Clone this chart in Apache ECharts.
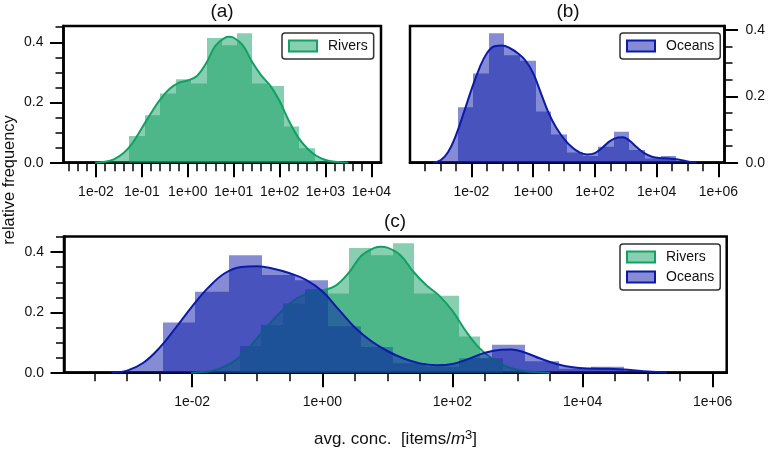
<!DOCTYPE html>
<html><head><meta charset="utf-8">
<style>html,body{margin:0;padding:0;background:#fff}#c{width:768px;height:450px}</style>
<script src="https://cdn.jsdelivr.net/npm/echarts@6/dist/echarts.min.js"></script></head>
<body><div id="c"></div>
<script>
const riverEdges=[-1.27,-0.94,-0.60,-0.26,0.08,0.41,0.745,1.08,1.41,1.755,2.10,2.43,2.77];
const riverHeights=[0.089,0.158,0.23,0.277,0.263,0.414,0.39,0.43,0.263,0.255,0.12,0.048];
const oceanEdges=[-2.45,-1.95,-1.44,-0.93,-0.42,0.08,0.59,1.09,1.60,2.10,2.61,3.12,3.63,4.13,4.64];
const oceanHeights=[0.167,0.269,0.39,0.324,0.307,0.154,0.085,0.031,0.02,0.048,0.093,0.038,0.013,0.02];
const riverKdeX=[-2.02,-1.8,-1.6,-1.4,-1.2,-1.0,-0.8,-0.6,-0.4,-0.2,0,0.2,0.4,0.6,0.8,0.9,1.0,1.2,1.4,1.6,1.8,2.0,2.2,2.4,2.6,2.8,3.0,3.2,3.5];
const riverKdeY=[0,0.003,0.012,0.032,0.066,0.115,0.165,0.21,0.245,0.265,0.273,0.288,0.33,0.388,0.414,0.418,0.415,0.39,0.335,0.29,0.255,0.205,0.14,0.085,0.048,0.023,0.009,0.003,0];
const oceanKdeX=[-3.24,-3.0,-2.75,-2.5,-2.25,-2.0,-1.75,-1.5,-1.25,-1.0,-0.75,-0.5,-0.25,0,0.25,0.5,0.75,1.0,1.25,1.5,1.75,2.0,2.25,2.5,2.75,2.9,3.1,3.35,3.6,3.85,4.1,4.4,4.7,5.0,5.3];
const oceanKdeY=[0,0.007,0.033,0.083,0.15,0.22,0.283,0.33,0.351,0.353,0.345,0.33,0.308,0.27,0.21,0.15,0.105,0.072,0.047,0.031,0.025,0.029,0.046,0.066,0.076,0.077,0.068,0.047,0.029,0.018,0.014,0.013,0.010,0.004,0];
const xMajorA=[-2,-1,0,1,2,3,4];
const xMinorA=[-2.6,-2.4,-2.2,-1.8,-1.6,-1.4,-1.2,-0.8,-0.6,-0.4,-0.2,0.2,0.4,0.6,0.8,1.2,1.4,1.6,1.8,2.2,2.4,2.6,2.8,3.2,3.4,3.6,3.8];
const xMajorB=[-2,0,2,4,6];
const xMinorB=[-3.5,-3,-2.5,-1.5,-1,-0.5,0.5,1,1.5,2.5,3,3.5,4.5,5,5.5];
const xMajorC=[-2,0,2,4,6];
const xMinorC=[-3.5,-3,-2.5,-1.5,-1,-0.5,0.5,1,1.5,2.5,3,3.5,4.5,5,5.5];
const yMajor=[0,0.2,0.4];
const yMinorAC=[0.05,0.1,0.15,0.25,0.3,0.35,0.45];
const yMinorB=[0.05,0.1,0.15,0.25,0.3,0.35];

const GREEN='#12a064',BLUE='#0b1aa8';
const GREEN_FILL='rgba(18,160,100,0.5)',BLUE_FILL='rgba(11,26,168,0.5)';
const FONT='"Liberation Sans",Arial,sans-serif';
const bins=(e,h)=>h.map((v,i)=>[e[i],e[i+1],v]);
const pts=(x,y)=>x.map((v,i)=>[v,y[i]]);
const fmt=v=>{const a=Math.abs(v);return '1e'+(v<0?'-':'+')+(a<10?'0':'')+a;};
const histRender=color=>(p,api)=>{
  const a=api.coord([api.value(0),api.value(2)]),b=api.coord([api.value(1),0]);
  const x0=Math.round(a[0]),x1=Math.round(b[0]);
  return {type:'rect',shape:{x:x0,y:a[1],width:x1-x0,height:b[1]-a[1]},style:{fill:color}};
};
const grids=[
 {left:63.5,top:26,width:317.5,height:136.7},
 {left:410,top:26,width:316,height:136.7},
 {left:64,top:236.5,width:662.7,height:136.2}
];
const xr=[[-2.708,4.21],[-3.99,6.2],[-3.97,6.215]];
const yr=[0.454,0.412,0.452];
const xMaj=[xMajorA,xMajorB,xMajorC],xMin=[xMinorA,xMinorB,xMinorC],yMin=[yMinorAC,yMinorB,yMinorAC];
const xAxis=[],yAxis=[];
const lineBlack={show:true,onZero:false,lineStyle:{color:'#000',width:2.5}};
const lineNone={show:false,onZero:false};
for(let g=0;g<3;g++){
  xAxis.push({type:'value',gridIndex:g,position:'bottom',min:xr[g][0],max:xr[g][1],splitLine:{show:false},axisLine:lineBlack,
    axisTick:{show:true,length:14.5,lineStyle:{color:'#000',width:2},customValues:xMaj[g]},
    axisLabel:{show:true,customValues:xMaj[g],formatter:fmt,margin:22,fontSize:14,color:'#111',fontFamily:FONT,hideOverlap:false}});
  xAxis.push({type:'value',gridIndex:g,position:'bottom',min:xr[g][0],max:xr[g][1],splitLine:{show:false},axisLine:lineNone,
    axisTick:{show:true,length:8.5,lineStyle:{color:'#000',width:1.5},customValues:xMin[g]},axisLabel:{show:false}});
  const pos=g===1?'right':'left';
  yAxis.push({type:'value',gridIndex:g,position:pos,min:0,max:yr[g],splitLine:{show:false},axisLine:lineBlack,
    axisTick:{show:true,length:13.5,lineStyle:{color:'#000',width:2},customValues:yMajor},
    axisLabel:{show:true,customValues:yMajor,formatter:v=>v.toFixed(1),margin:g===1?21:20,fontSize:14,color:'#111',fontFamily:FONT}});
  yAxis.push({type:'value',gridIndex:g,position:pos,min:0,max:yr[g],splitLine:{show:false},axisLine:lineNone,
    axisTick:{show:true,length:8,lineStyle:{color:'#000',width:1.5},customValues:yMin[g]},axisLabel:{show:false}});
}
const hist=(name,g,e,h,c,z)=>({type:'custom',name,z,xAxisIndex:g*2,yAxisIndex:g*2,data:bins(e,h),encode:{x:[0,1],y:2},renderItem:histRender(c),silent:true,clip:true,itemStyle:{color:c}});
const kde=(name,g,x,y,c,f,z)=>({type:'line',name,z,xAxisIndex:g*2,yAxisIndex:g*2,data:pts(x,y),smooth:0.4,showSymbol:false,silent:true,lineStyle:{color:c,width:2},areaStyle:{color:f,opacity:1},itemStyle:{color:c}});
const series=[
 hist('Rivers',0,riverEdges,riverHeights,GREEN_FILL,2),kde('Rivers KDE',0,riverKdeX,riverKdeY,GREEN,GREEN_FILL,3),
 hist('Oceans',1,oceanEdges,oceanHeights,BLUE_FILL,2),kde('Oceans KDE',1,oceanKdeX,oceanKdeY,BLUE,BLUE_FILL,3),
 hist('Rivers',2,riverEdges,riverHeights,GREEN_FILL,2),hist('Oceans',2,oceanEdges,oceanHeights,BLUE_FILL,2),
 kde('Rivers KDE',2,riverKdeX,riverKdeY,GREEN,GREEN_FILL,3),kde('Oceans KDE',2,oceanKdeX,oceanKdeY,BLUE,BLUE_FILL,4)
];
const legItem={Rivers:{name:'Rivers',icon:'rect',itemStyle:{color:GREEN_FILL,borderColor:GREEN,borderWidth:2}},
               Oceans:{name:'Oceans',icon:'rect',itemStyle:{color:BLUE_FILL,borderColor:BLUE,borderWidth:2}}};
const leg=(names,left,top)=>({show:true,orient:'vertical',left,top,data:names.map(n=>legItem[n]),itemWidth:28,itemHeight:11,itemGap:6,
  padding:[6,6,6,6],selectedMode:false,backgroundColor:'#fff',borderColor:'#333',borderWidth:1.5,borderRadius:3,
  textStyle:{fontSize:14,color:'#111',fontFamily:FONT,padding:[0,0,0,6]}});
const ttl=(text,cx,top)=>({text,left:cx,top,textAlign:'center',padding:0,textStyle:{fontSize:19,fontWeight:'normal',color:'#111',fontFamily:FONT}});
const option={animation:false,backgroundColor:'#fff',
 grid:grids.map(g=>({...g,show:true,backgroundColor:'transparent',borderColor:'#000',borderWidth:2.5})),
 xAxis,yAxis,series,
 legend:[leg(['Rivers'],282,33),leg(['Oceans'],620,33),leg(['Rivers','Oceans'],620,244)],
 title:[ttl('(a)',222,2),ttl('(b)',568,2),ttl('(c)',395,212),
  {text:'{t|avg. conc.  [items/}{i|m}{s|3}{t|]}',left:395.5,top:429,textAlign:'center',padding:0,
   textStyle:{fontWeight:'normal',rich:{t:{fontSize:17,fontWeight:'normal',color:'#111',fontFamily:FONT},i:{fontSize:17,fontWeight:'normal',color:'#111',fontStyle:'italic',fontFamily:FONT},
     s:{fontSize:13,fontWeight:'normal',color:'#111',fontFamily:FONT,padding:[0,0,8,0]}}}}],
 graphic:[{type:'text',rotation:Math.PI/2,x:9,y:180,style:{text:'relative frequency',fontSize:16.4,fill:'#111',fontFamily:FONT,textAlign:'center',textVerticalAlign:'middle'}}]
};
const chart=echarts.init(document.getElementById('c'),null,{renderer:'canvas'});
chart.setOption(option);
</script></body></html>
